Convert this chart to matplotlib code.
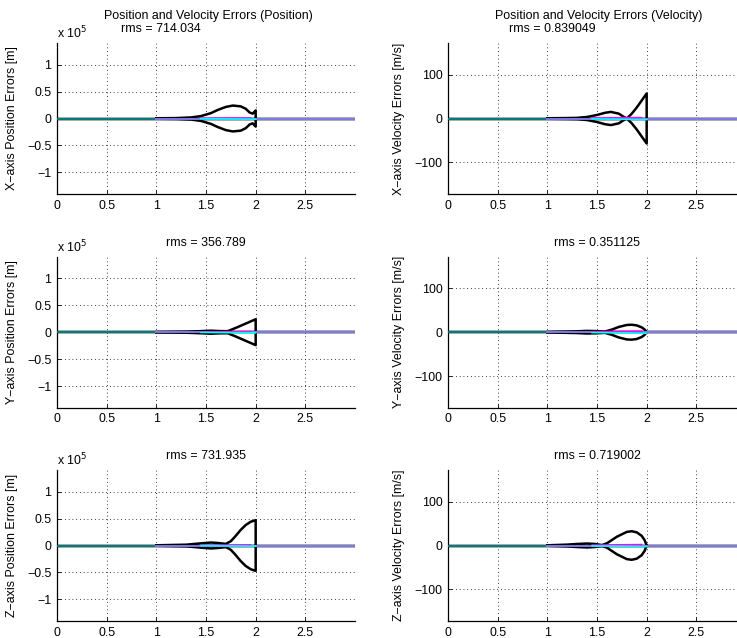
import matplotlib.pyplot as plt

plt.rcParams['font.family'] = ['Liberation Sans', 'DejaVu Sans']
plt.rcParams['font.size'] = 8.9

# ---- dados ----
t_fim = 3.0

# envelopes (posicao em unidades de 1e5 m, velocidade em m/s)
t_xp = [1.0, 1.2, 1.35, 1.45, 1.55, 1.62, 1.7, 1.77, 1.85, 1.9, 1.94, 1.97, 1.99, 2.0, 2.0]
v_xp = [0.004, 0.008, 0.02, 0.045, 0.1, 0.16, 0.215, 0.24, 0.225, 0.18, 0.11, 0.09, 0.13, 0.15, 0.0]

t_xv = [1.0, 1.2, 1.3, 1.4, 1.5, 1.58, 1.64, 1.72, 1.76, 1.8, 1.85, 1.9, 1.95, 2.0, 2.0]
v_xv = [0.5, 1.0, 1.5, 3.5, 8.0, 13.0, 15.0, 11.0, 5.0, 0.0, -11.0, -25.0, -41.0, -57.0, 0.0]

t_yp = [1.0, 1.3, 1.45, 1.55, 1.65, 1.72, 1.8, 1.9, 2.0, 2.0]
v_yp = [0.004, 0.01, 0.02, 0.028, 0.02, 0.02, 0.08, 0.16, 0.24, 0.0]

t_yv = [1.0, 1.3, 1.4, 1.5, 1.58, 1.65, 1.72, 1.8, 1.85, 1.9, 1.95, 1.98, 2.0]
v_yv = [0.5, 2.0, 3.0, 2.5, 1.5, 6.0, 12.0, 16.5, 17.0, 15.5, 11.0, 6.0, 0.0]

t_zp = [1.0, 1.3, 1.45, 1.55, 1.63, 1.7, 1.75, 1.8, 1.85, 1.9, 1.95, 2.0, 2.0]
v_zp = [0.004, 0.015, 0.04, 0.055, 0.045, 0.03, 0.08, 0.18, 0.29, 0.38, 0.44, 0.47, 0.0]

t_zv = [1.0, 1.2, 1.3, 1.4, 1.48, 1.55, 1.6, 1.7, 1.8, 1.85, 1.9, 1.95, 1.98, 2.0]
v_zv = [0.5, 2.0, 3.5, 4.5, 3.5, 1.0, 5.0, 20.0, 31.0, 32.5, 30.0, 22.0, 12.0, 0.0]

# erros estimados (quase zero)
t_mag = [1.45, 1.7, 1.95]
mag_pos = [0.004, 0.008, 0.01]
mag_vel = [0.8, 1.5, 2.0]
t_cia = [1.45, 1.7, 2.0]
cia_pos = [-0.004, -0.008, -0.012]
cia_vel = [-0.8, -1.5, -2.5]

rms = ['714.034', '0.839049', '356.789', '0.351125', '731.935', '0.719002']
eixos = ['X', 'Y', 'Z']

paineis = [
    (t_xp, v_xp, 'pos'), (t_xv, v_xv, 'vel'),
    (t_yp, v_yp, 'pos'), (t_yv, v_yv, 'vel'),
    (t_zp, v_zp, 'pos'), (t_zv, v_zv, 'vel'),
]

W, H = 737, 638
fig = plt.figure(figsize=(W / 100, H / 100), dpi=100)

x_esq = [57, 448]
topos = [43, 256.7, 470]
larg, alt = 298, 151

for i, (tt, vv, tipo) in enumerate(paineis):
    lin, col = i // 2, i % 2
    ax = fig.add_axes([x_esq[col] / W, 1 - (topos[lin] + alt) / H, larg / W, alt / H])

    ax.plot([0, t_fim], [0, 0], color='#999999', lw=2.6, zorder=1)
    ax.plot(tt, vv, color='black', lw=1.8, zorder=2)
    ax.plot(tt, [-v for v in vv], color='black', lw=1.8, zorder=2)
    ax.plot([0, 1], [0, 0], color='#007a7a', lw=1.4, zorder=3)
    ax.plot([1, t_fim], [0, 0], color='#7b7bea', lw=1.4, zorder=3)
    if tipo == 'pos':
        ax.plot(t_mag, mag_pos, color='magenta', lw=1.2, zorder=4)
        ax.plot(t_cia, cia_pos, color='cyan', lw=1.2, zorder=4)
    else:
        ax.plot(t_mag, mag_vel, color='magenta', lw=1.2, zorder=4)
        ax.plot(t_cia, cia_vel, color='cyan', lw=1.2, zorder=4)

    ax.set_xlim(0, t_fim)
    ax.set_xticks([0, 0.5, 1, 1.5, 2, 2.5])
    ax.set_xticklabels(['0', '0.5', '1', '1.5', '2', '2.5'])
    if tipo == 'pos':
        ax.set_ylim(-1.4, 1.4)
        ax.set_yticks([-1, -0.5, 0, 0.5, 1])
        ax.set_yticklabels(['\u22121', '\u22120.5', '0', '0.5', '1'])
        ax.text(0, 1 + 10 / alt, 'x 10$^5$', transform=ax.transAxes,
                ha='left', va='center')
        ax.set_ylabel(eixos[lin] + '\u2212axis Position Errors [m]')
    else:
        ax.set_ylim(-172, 172)
        ax.set_yticks([-100, 0, 100])
        ax.set_yticklabels(['\u2212100', '0', '100'])
        ax.set_ylabel(eixos[lin] + '\u2212axis Velocity Errors [m/s]')
    ax.yaxis.set_label_coords(-39 / larg if col == 0 else -43 / larg, 0.5)

    ax.grid(True, color='black', linestyle=(0, (1, 3.5)), linewidth=0.6)
    ax.spines['top'].set_visible(False)
    ax.spines['right'].set_visible(False)
    ax.tick_params(direction='in', length=3, width=0.6, pad=4)
    for s in ['left', 'bottom']:
        ax.spines[s].set_linewidth(0.9)

    if lin == 0:
        nome = 'Position' if col == 0 else 'Velocity'
        ax.text(0.507, 1 + 27.3 / alt, 'Position and Velocity Errors (' + nome + ')',
                transform=ax.transAxes, ha='center', va='center')
        ax.text(0.35, 1 + 14 / alt, 'rms = ' + rms[i],
                transform=ax.transAxes, ha='center', va='center')
    else:
        ax.text(0.5, 1 + 14 / alt, 'rms = ' + rms[i],
                transform=ax.transAxes, ha='center', va='center')

fig.savefig('out.png', dpi=100)
